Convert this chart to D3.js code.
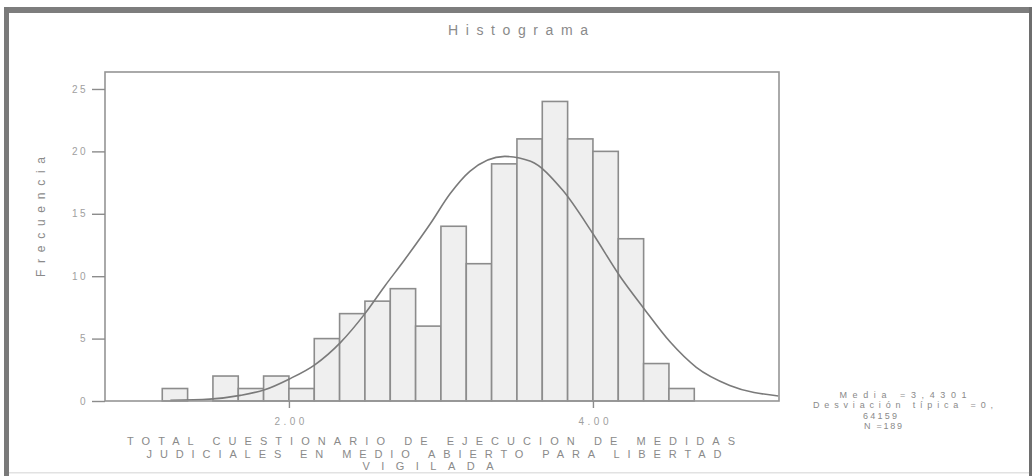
<!DOCTYPE html>
<meta charset="utf-8">
<script src="https://d3js.org/d3.v7.min.js"></script>
<style>
  body { margin: 0; background: #fff; }
  text { font-family: "Liberation Sans", Arial, sans-serif; fill: #8a8a8a; }
</style>
<div id="my_dataviz"></div>

<script>

// histogram bins (lower edge) and frequencies
var binStarts = [1.1667, 1.3333, 1.5, 1.6667, 1.8333, 2.0, 2.1667, 2.3333, 2.5, 2.6667, 2.8333,
                 3.0, 3.1667, 3.3333, 3.5, 3.6667, 3.8333, 4.0, 4.1667, 4.3333, 4.5];
var counts    = [1, 0, 2, 1, 2, 1, 5, 7, 8, 9, 6,
                 14, 11, 19, 21, 24, 21, 20, 13, 3, 1];
var binWidth = 0.1667;

// fitted normal curve
var curveX = [1.22, 1.48, 1.68, 1.84, 2.0, 2.17, 2.34, 2.5, 2.63, 2.76, 2.93, 3.06, 3.19, 3.42,
              3.59, 3.8, 4.0, 4.18, 4.33, 4.51, 4.68, 4.9, 5.22];
var curveY = [0.05, 0.15, 0.45, 0.9, 1.75, 2.9, 4.7, 7.0, 9.2, 11.3, 14.2, 16.6, 18.4, 19.6,
              19.2, 16.9, 13.4, 9.96, 7.5, 4.7, 2.7, 1.25, 0.4];

var xTicks = [2, 4];
var yTicks = [0, 5, 10, 15, 20, 25];

var xLabelLines = ["TOTAL CUESTIONARIO DE EJECUCION DE MEDIDAS",
                   "JUDICIALES EN MEDIO ABIERTO PARA LIBERTAD",
                   "VIGILADA"];
var statLines = ["Media =3,4301", "Desviación típica =0,", "64159", "N =189"];

// dimensions
var W = 1033, H = 476;
var margin = {top: 72, left: 105},
    width = 674,
    height = 329;

var root = d3.select("#my_dataviz")
  .append("svg")
    .attr("width", W)
    .attr("height", H);

// outer scanned frame
root.append("rect").attr("x", 4).attr("y", 7).attr("width", 1027).attr("height", 6).style("fill", "#7d7d7d");
root.append("rect").attr("x", 4).attr("y", 7).attr("width", 5).attr("height", 469).style("fill", "#7a7a7a");
root.append("rect").attr("x", 1029).attr("y", 7).attr("width", 3).attr("height", 469).style("fill", "#6e6e6e");
root.append("rect").attr("x", 9).attr("y", 472).attr("width", 1020).attr("height", 1.5).style("fill", "#e2e2e2");

// title
root.append("text")
    .attr("x", 518)
    .attr("y", 35)
    .attr("text-anchor", "middle")
    .attr("textLength", 140)
    .attr("lengthAdjust", "spacing")
    .style("font-size", "14px")
    .text("Histograma");

var svg = root.append("g")
    .attr("transform", "translate(" + margin.left + "," + margin.top + ")");

var x = d3.scaleLinear()
  .domain([0.79, 5.224])
  .range([0, width]);

var y = d3.scaleLinear()
  .domain([0, 26.36])
  .range([height, 0]);

// bars
var bins = binStarts.map(function(d, i) { return {x0: d, n: counts[i]}; })
  .filter(function(d) { return d.n > 0; });

svg.selectAll("rect.bar")
  .data(bins)
  .enter()
  .append("rect")
    .attr("class", "bar")
    .attr("x", function(d) { return x(d.x0); })
    .attr("y", function(d) { return y(d.n); })
    .attr("width", function(d) { return x(d.x0 + binWidth) - x(d.x0); })
    .attr("height", function(d) { return y(0) - y(d.n); })
    .style("fill", "#efefef")
    .style("stroke", "#8c8c8c")
    .style("stroke-width", 1.6);

// normal curve
var pts = curveX.map(function(d, i) { return [d, curveY[i]]; });
svg.append("path")
  .datum(pts)
  .attr("d", d3.line()
    .curve(d3.curveMonotoneX)
    .x(function(d) { return x(d[0]); })
    .y(function(d) { return y(d[1]); }))
  .style("fill", "none")
  .style("stroke", "#7a7a7a")
  .style("stroke-width", 1.6);

// plot frame
svg.append("rect")
  .attr("x", 0).attr("y", 0)
  .attr("width", width).attr("height", height)
  .style("fill", "none")
  .style("stroke", "#959595")
  .style("stroke-width", 1.6);

// Y axis
var yAxis = svg.append("g")
  .call(d3.axisLeft(y).tickValues(yTicks).tickSize(13).tickPadding(4));
yAxis.select(".domain").remove();
yAxis.selectAll("line").style("stroke", "#8c8c8c").style("stroke-width", 1.4);
yAxis.selectAll("text")
  .style("font-size", "10px")
  .style("letter-spacing", "2.5px")
  .style("fill", "#a0a0a0")
  .style("font-family", "'Liberation Sans', Arial, sans-serif");

// X axis
var xAxis = svg.append("g")
  .attr("transform", "translate(0," + height + ")")
  .call(d3.axisBottom(x).tickValues(xTicks).tickSize(7).tickPadding(10).tickFormat(d3.format(".2f")));
xAxis.select(".domain").remove();
xAxis.selectAll("line").style("stroke", "#8c8c8c").style("stroke-width", 1.4);
xAxis.selectAll("text")
  .attr("textLength", 30)
  .attr("lengthAdjust", "spacing")
  .style("font-size", "10px")
  .style("fill", "#a0a0a0")
  .style("font-family", "'Liberation Sans', Arial, sans-serif");

// Y label
root.append("text")
  .attr("transform", "translate(45,217) rotate(-90)")
  .attr("text-anchor", "middle")
  .attr("textLength", 120)
  .attr("lengthAdjust", "spacing")
  .style("font-size", "12px")
  .text("Frecuencia");

// X label (three lines)
var xlab = [{cx: 431, y: 445, w: 608}, {cx: 434, y: 457.5, w: 575}, {cx: 428, y: 470, w: 131}];
root.selectAll("text.xlab")
  .data(xLabelLines)
  .enter()
  .append("text")
    .attr("class", "xlab")
    .attr("x", function(d, i) { return xlab[i].cx; })
    .attr("y", function(d, i) { return xlab[i].y; })
    .attr("text-anchor", "middle")
    .attr("textLength", function(d, i) { return xlab[i].w; })
    .attr("lengthAdjust", "spacing")
    .style("font-size", "11px")
    .text(function(d) { return d; });

// stats box
var stat = [{cx: 903, y: 397.5, w: 127}, {cx: 903, y: 408, w: 180}, {cx: 880, y: 418.5, w: 34}, {cx: 883, y: 429, w: 38}];
root.selectAll("text.stat")
  .data(statLines)
  .enter()
  .append("text")
    .attr("class", "stat")
    .attr("x", function(d, i) { return stat[i].cx; })
    .attr("y", function(d, i) { return stat[i].y; })
    .attr("text-anchor", "middle")
    .attr("textLength", function(d, i) { return stat[i].w; })
    .attr("lengthAdjust", "spacing")
    .style("font-size", "9px")
    .text(function(d) { return d; });

</script>
